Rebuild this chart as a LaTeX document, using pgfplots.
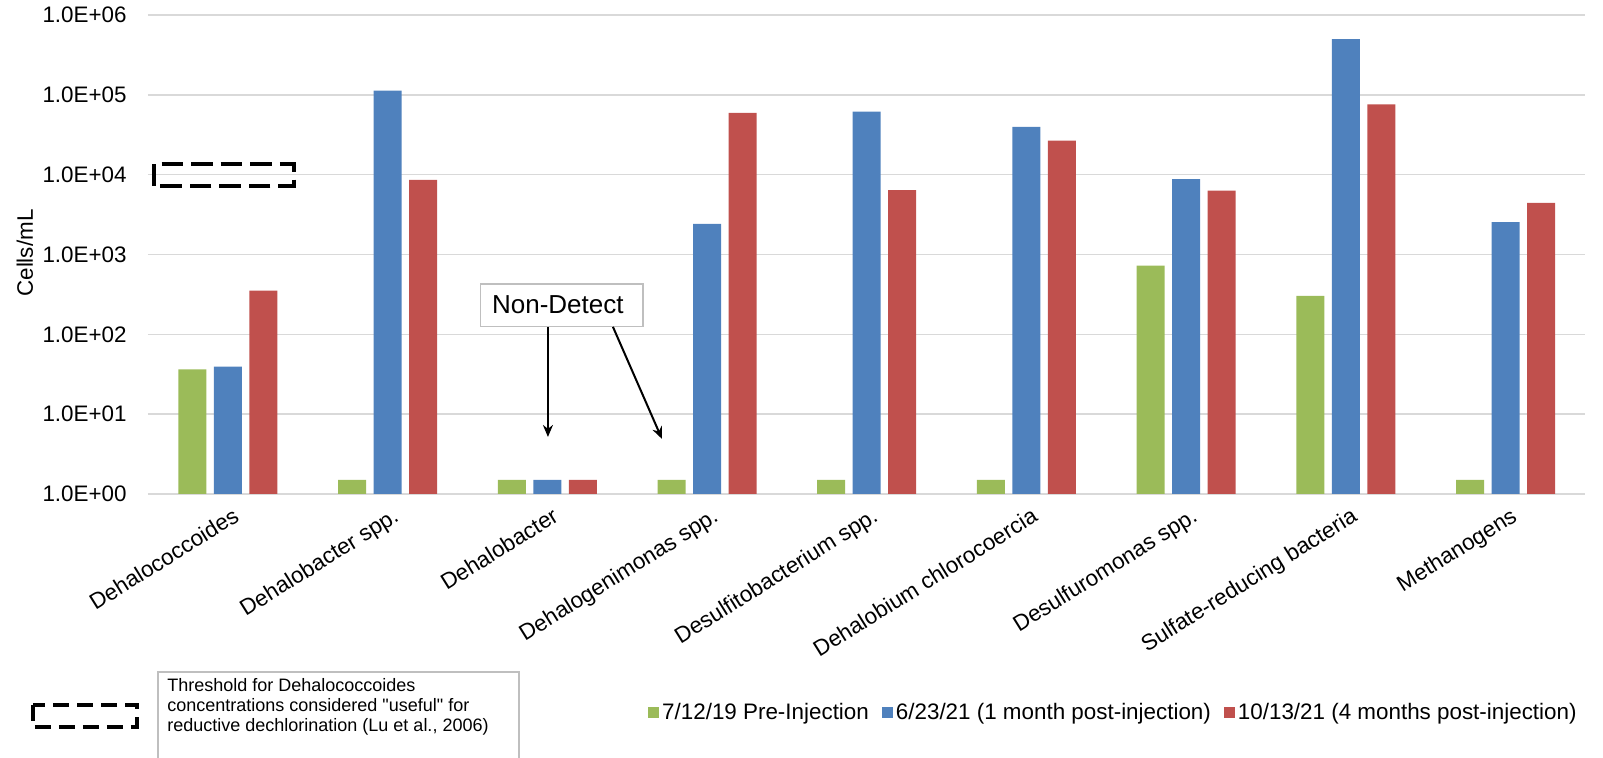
\documentclass[border=0pt]{standalone}
\usepackage{fontspec}
\setmainfont{Liberation Sans}
\newfontfamily\plainsans{Liberation Sans}
\usepackage{pgfplots}
\pgfplotsset{compat=1.18}
\usetikzlibrary{arrows.meta}
\definecolor{cgreen}{HTML}{9BBB59}
\definecolor{cblue}{HTML}{4F81BD}
\definecolor{cred}{HTML}{C0504D}
\definecolor{gridgray}{HTML}{D9D9D9}
\definecolor{boxgray}{HTML}{BFBFBF}
\begin{document}
\begin{tikzpicture}
\useasboundingbox (-74pt,-132pt) rectangle (727.5pt,247pt);
\begin{axis}[
  at={(0pt,0pt)}, anchor=south west,
  scale only axis, width=718.75pt, height=239.5pt,
  ymode=log, ymin=1, ymax=1e6,
  xmin=-0.5, xmax=8.5,
  ytick={1,10,100,1000,10000,100000,1000000},
  yticklabels={1.0E+00,1.0E+01,1.0E+02,1.0E+03,1.0E+04,1.0E+05,1.0E+06},
  yminorticks=false,
  xtick={0,1,2,3,4,5,6,7,8},
  xticklabels={Dehalococcoides,Dehalobacter spp.,Dehalobacter,Dehalogenimonas spp.,Desulfitobacterium spp.,Dehalobium chlorocoercia,Desulfuromonas spp.,Sulfate-reducing bacteria,Methanogens},
  ymajorgrids, major grid style={gridgray, line width=0.75pt},
  axis line style={draw=none},
  tick style={draw=none},
  major tick length=0pt,
  ybar, bar width=14pt,
  clip=false,
  ticklabel style={font=\fontsize{11.2}{13}\selectfont},
  yticklabel style={anchor=east, inner sep=0pt, xshift=-10.5pt},
  xticklabel style={yshift=-6pt, xshift=2pt, rotate=32, anchor=north east, inner sep=0pt},
  ylabel={Cells/mL},
  every axis y label/.style={at={(rel axis cs:-0.0856,0.503)}, rotate=90, anchor=center, font=\fontsize{11.2}{13}\selectfont},
  legend columns=3,
  legend style={at={(0.9962,-0.4572)}, anchor=east, draw=none, fill=none, inner sep=0pt,
    font=\fontsize{11.2}{13}\selectfont,
    /tikz/every even column/.append style={column sep=5pt},
    nodes={inner sep=1.5pt}},
  legend image code/.code={\fill[#1] (0pt,-2.75pt) rectangle (5.5pt,2.75pt);},
]
\addplot[fill=cgreen, draw=none, bar shift=-17.75pt] coordinates {(0,36.5) (1,1.5) (2,1.5) (3,1.5) (4,1.5) (5,1.5) (6,726) (7,303) (8,1.5)};
\addplot[fill=cblue, draw=none, bar shift=0pt] coordinates {(0,39.4) (1,113000) (2,1.5) (3,2420) (4,61800) (5,39700) (6,8770) (7,499000) (8,2540)};
\addplot[fill=cred, draw=none, bar shift=17.75pt] coordinates {(0,353) (1,8600) (2,1.5) (3,59500) (4,6390) (5,26700) (6,6320) (7,75700) (8,4430)};
\legend{7/12/19 Pre-Injection,6/23/21 (1 month post-injection),10/13/21 (4 months post-injection)}
% threshold box
\draw[black, line width=1.75pt, dash pattern=on 10.8pt off 4pt] (axis cs:-0.463,7245) rectangle (axis cs:0.413,13650);
% Non-Detect annotation
\draw[boxgray, fill=white, line width=0.6pt] (axis cs:1.584,428) rectangle (axis cs:2.599,124);
\node[font=\fontsize{13}{15}\selectfont, inner sep=0pt] at (axis cs:2.066,232) {Non-Detect};
\draw[black, line width=1pt, -{Stealth[length=6pt,width=5pt]}] (axis cs:2.004,124) -- (axis cs:2.004,5.18);
\draw[black, line width=1pt, -{Stealth[length=6pt,width=5pt]}] (axis cs:2.411,124) -- (axis cs:2.718,4.9);
\end{axis}
% threshold legend
\draw[black, line width=1.75pt, dash pattern=on 8pt off 4pt] (-57.5pt,-105.5pt) rectangle (-5.5pt,-116.5pt);
\draw[boxgray, fill=white, line width=0.6pt] (5pt,-89pt) rectangle (185.5pt,-140pt);
\node[anchor=north west, align=left, font=\plainsans\fontsize{9}{10}\selectfont, inner sep=0pt] at (9.5pt,-92pt) {Threshold for Dehalococcoides\\concentrations considered "useful" for\\reductive dechlorination (Lu et al., 2006)};
\end{tikzpicture}
\end{document}
